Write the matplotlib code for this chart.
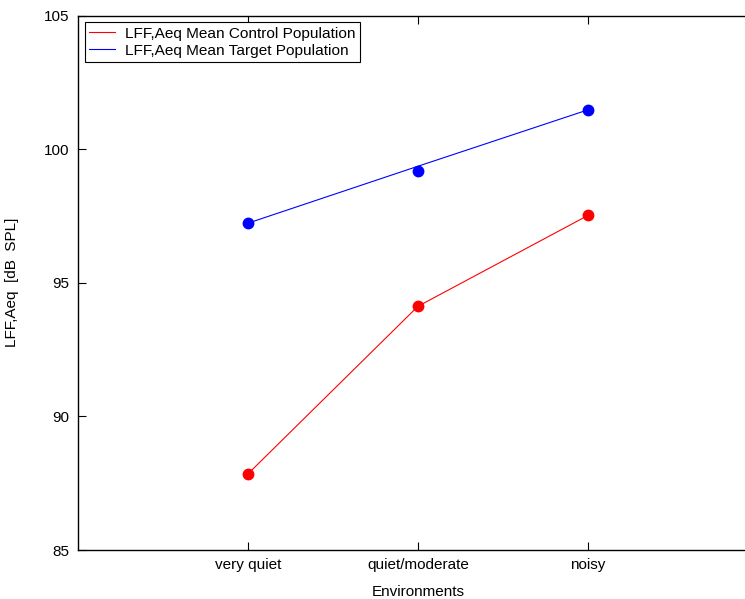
import matplotlib
matplotlib.use('Agg')
import matplotlib.pyplot as plt

environments = ['very quiet', 'quiet/moderate', 'noisy']
env_pos = [1, 2, 3]
control_mean = [87.85, 94.12, 97.52]
target_mean = [97.23, 99.19, 101.47]
# the target line in the original does not pass exactly through the middle marker
target_line = [97.23, 99.36, 101.47]

plt.rcParams['font.family'] = ['Liberation Sans', 'DejaVu Sans']

fig = plt.figure(figsize=(7.45, 5.99), dpi=100)
ax = fig.add_axes([78 / 745, 49 / 599, 680 / 745, 534.5 / 599])

ax.plot(env_pos, control_mean, c='#ff0000', lw=0.8, label='LFF,Aeq Mean Control Population')
ax.plot(env_pos, target_line, c='#0000ff', lw=0.8, label='LFF,Aeq Mean Target Population')
ax.plot(env_pos, control_mean, ls='none', marker='o', ms=7.5, c='#ff0000')
ax.plot(env_pos, target_mean, ls='none', marker='o', ms=7.5, c='#0000ff')

ax.set_xlim(0, 4)
ax.set_ylim(85, 105)
ax.set_xticks(env_pos)
ax.set_xticklabels(environments)
ax.set_yticks([85, 90, 95, 100, 105])
ax.tick_params(direction='in', length=6, width=0.8, top=True, right=True, labelsize=11, pad=6)
for s in ax.spines.values():
  s.set_linewidth(1.0)

ax.set_xlabel('Environments', fontsize=11, labelpad=9)
ax.set_ylabel('LFF,Aeq  [dB  SPL]', fontsize=11, labelpad=18)

leg = ax.legend(loc='upper left', fontsize=11.1, fancybox=False, framealpha=1,
                edgecolor='black', handlelength=1.7, borderaxespad=0.45,
                borderpad=0.28, labelspacing=0.2, handletextpad=0.6)
leg.get_frame().set_linewidth(0.8)

plt.savefig('out.png', dpi=100)
plt.close()
